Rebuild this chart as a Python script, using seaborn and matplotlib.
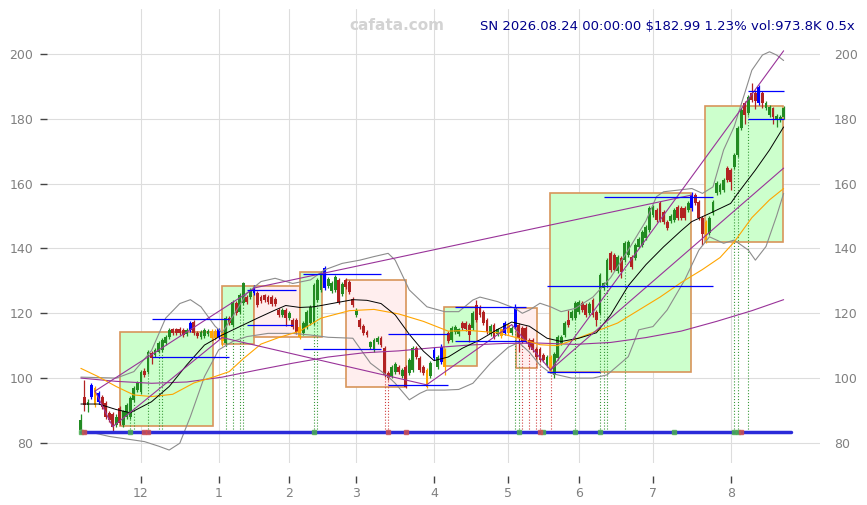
import matplotlib
matplotlib.use("Agg")
import matplotlib.pyplot as plt
from matplotlib.patches import Rectangle
import numpy as np
import pandas as pd
import seaborn as sns

# calendario de dias habiles (el eje x es el numero de dia habil)
festivos = ["2025-11-27", "2025-12-25", "2026-01-01", "2026-01-19", "2026-02-16",
            "2026-04-03", "2026-05-25", "2026-06-19", "2026-07-03"]
fechas = pd.bdate_range("2025-11-05", "2026-08-24", freq="C", holidays=festivos)

# velas
aperturas = [
    84.0, 94.3, 91.7, 94.1, 96.9, 92.7, 94.1, 92.2, 89.1, 89.0,
    85.6, 90.7, 85.6, 88.1, 88.1, 93.3, 96.3, 95.8, 102.3, 102.0,
    107.7, 107.2, 108.2, 108.7, 110.7, 112.8, 115.0, 115.0, 115.2, 114.8,
    113.5, 114.8, 117.4, 114.0, 112.8, 113.0, 113.5, 114.5, 114.5, 112.8,
    114.3, 110.7, 118.5, 116.4, 123.1, 120.5, 123.1, 125.1, 125.1, 126.2,
    126.2, 125.0, 125.5, 125.0, 125.0, 124.5, 121.0, 119.5, 121.0, 118.5,
    117.9, 117.9, 115.9, 113.8, 115.9, 117.0, 116.9, 124.1, 127.2, 127.7,
    128.5, 127.0, 127.2, 130.3, 126.0, 130.3, 129.8, 124.3, 119.5, 117.9,
    116.0, 114.3, 109.5, 108.7, 111.0, 112.3, 109.2, 101.5, 100.5, 102.0,
    103.5, 100.5, 103.5, 101.5, 102.5, 109.2, 106.1, 103.5, 102.5, 100.5,
    106.1, 103.5, 105.0, 108.7, 113.8, 111.8, 114.3, 113.5, 116.9, 116.9,
    116.4, 115.4, 122.6, 122.0, 120.5, 118.0, 113.5, 116.4, 113.5, 115.0,
    113.8, 116.5, 114.0, 115.9, 116.4, 115.5, 115.4, 111.8, 111.8, 109.0,
    109.0, 107.1, 104.0, 106.6, 101.0, 106.1, 110.7, 113.3, 117.9, 118.5,
    118.5, 120.5, 123.1, 122.6, 120.0, 124.1, 120.5, 120.0, 127.7, 128.7,
    138.5, 138.0, 133.0, 137.0, 136.4, 138.0, 137.5, 137.0, 140.6, 141.1,
    143.1, 145.7, 150.3, 151.9, 153.9, 151.4, 148.3, 148.5, 148.8, 152.9,
    152.5, 152.5, 151.9, 152.4, 156.5, 154.4, 149.3, 148.3, 144.7, 150.8,
    157.0, 157.5, 158.0, 164.7, 164.2, 165.2, 168.8, 177.1, 184.8, 181.7,
    187.9, 188.0, 184.8, 187.9, 183.2, 181.2, 183.2, 179.5, 179.6, 180.7]
cierres = [
    87.0, 91.7, 92.7, 97.9, 91.7, 95.3, 91.2, 88.1, 87.1, 84.8,
    88.1, 86.1, 89.7, 91.7, 93.8, 96.9, 98.4, 102.0, 101.0, 108.2,
    106.1, 108.7, 110.7, 111.8, 112.8, 114.8, 113.8, 114.0, 113.8, 113.3,
    114.8, 116.9, 113.8, 113.0, 114.3, 114.8, 114.5, 112.5, 112.5, 115.0,
    111.3, 118.5, 116.9, 123.6, 120.0, 125.6, 129.2, 123.6, 127.2, 128.2,
    122.6, 123.8, 124.0, 123.5, 123.0, 123.0, 119.5, 121.0, 118.5, 120.0,
    115.9, 114.3, 112.8, 117.0, 120.5, 122.0, 128.7, 130.3, 132.3, 133.9,
    130.5, 129.5, 131.3, 123.6, 129.0, 128.2, 126.7, 122.6, 121.0, 115.9,
    114.0, 113.3, 111.0, 111.8, 112.3, 110.2, 101.0, 100.0, 103.5, 104.5,
    102.0, 102.5, 97.4, 105.6, 109.2, 106.6, 102.5, 101.5, 97.4, 104.6,
    108.7, 106.6, 109.7, 103.5, 111.3, 115.4, 115.9, 115.0, 115.4, 115.2,
    113.3, 120.0, 118.0, 119.5, 116.9, 114.3, 116.0, 112.8, 115.0, 113.0,
    116.9, 114.0, 115.5, 121.5, 112.3, 111.5, 111.3, 109.5, 108.7, 106.5,
    105.5, 105.6, 106.6, 102.5, 107.5, 112.8, 112.8, 116.9, 116.4, 120.5,
    123.1, 123.6, 121.0, 119.5, 123.0, 119.5, 117.9, 131.8, 129.2, 136.4,
    133.4, 133.5, 137.5, 132.8, 141.6, 142.1, 134.4, 141.0, 143.0, 145.2,
    146.7, 152.4, 152.9, 148.8, 148.8, 148.3, 146.2, 150.0, 151.9, 149.3,
    149.5, 149.5, 153.9, 156.5, 153.9, 149.3, 144.5, 142.5, 149.3, 154.4,
    160.1, 159.5, 161.1, 161.1, 160.6, 168.8, 177.1, 182.7, 181.2, 186.8,
    185.8, 185.5, 189.9, 184.8, 184.8, 183.7, 180.7, 181.0, 180.6, 183.2]
maximos = [
    89.0, 99.5, 93.5, 98.5, 97.5, 96.0, 94.8, 92.8, 89.8, 89.6,
    88.8, 91.3, 90.3, 92.3, 94.4, 97.5, 99.0, 102.6, 103.0, 108.8,
    108.4, 109.3, 111.3, 112.4, 113.4, 115.4, 115.6, 115.6, 115.8, 115.4,
    115.4, 117.6, 118.0, 114.6, 114.9, 115.4, 115.1, 115.1, 115.1, 115.6,
    114.9, 119.1, 119.1, 124.2, 123.7, 126.2, 129.8, 125.7, 127.8, 128.8,
    126.8, 125.6, 126.1, 125.6, 125.6, 125.1, 121.6, 121.6, 121.6, 120.6,
    118.5, 118.5, 116.5, 117.6, 121.1, 122.6, 129.3, 130.9, 132.9, 134.5,
    131.1, 130.1, 131.9, 130.9, 129.6, 130.9, 130.4, 124.9, 121.6, 118.5,
    116.6, 114.9, 111.6, 112.4, 112.9, 112.9, 109.8, 102.1, 104.1, 105.1,
    104.1, 103.1, 104.1, 106.2, 109.8, 109.8, 106.7, 104.1, 103.1, 105.2,
    109.5, 107.2, 110.5, 109.3, 114.4, 116.0, 116.5, 115.6, 117.5, 117.5,
    117.0, 120.6, 124.0, 122.6, 121.1, 118.6, 116.6, 117.0, 115.6, 115.6,
    117.5, 117.1, 116.1, 122.8, 117.0, 116.1, 116.0, 112.4, 112.4, 109.6,
    109.6, 107.7, 107.2, 107.2, 108.1, 113.4, 113.4, 117.5, 121.0, 121.1,
    123.7, 124.2, 123.7, 123.2, 123.6, 124.7, 121.1, 132.4, 129.8, 137.0,
    139.1, 138.6, 138.1, 137.6, 142.2, 142.7, 138.1, 141.6, 143.6, 145.8,
    147.3, 153.0, 153.5, 152.5, 154.5, 152.0, 148.9, 150.6, 152.5, 153.5,
    153.1, 153.1, 154.5, 157.5, 157.1, 155.0, 149.9, 148.9, 149.9, 155.0,
    160.7, 160.1, 161.7, 165.3, 164.8, 169.4, 177.7, 183.3, 185.4, 187.4,
    191.0, 189.0, 190.5, 188.5, 185.4, 184.3, 183.8, 181.6, 181.2, 184.0]
minimos = [
    83.5, 90.0, 89.4, 93.5, 91.0, 92.0, 90.5, 87.5, 86.5, 83.0,
    85.0, 85.5, 85.0, 87.5, 87.5, 92.7, 95.7, 95.2, 100.2, 101.4,
    104.2, 106.6, 107.6, 108.1, 110.1, 112.2, 113.2, 113.4, 113.2, 112.7,
    112.9, 114.2, 113.2, 112.4, 112.2, 112.4, 112.9, 111.9, 111.9, 112.2,
    110.0, 110.1, 116.3, 115.8, 119.4, 119.9, 122.5, 123.0, 124.5, 125.6,
    122.0, 123.2, 123.4, 122.9, 122.4, 122.4, 118.9, 118.9, 116.0, 117.9,
    115.3, 113.7, 112.2, 113.2, 115.3, 116.4, 116.3, 123.5, 126.6, 127.1,
    127.9, 126.4, 126.6, 123.0, 125.4, 127.6, 126.1, 122.0, 118.9, 115.3,
    113.4, 112.7, 108.9, 108.1, 110.4, 109.6, 100.4, 99.4, 99.9, 101.4,
    101.4, 99.9, 96.8, 100.9, 101.9, 106.0, 101.9, 100.9, 96.8, 99.9,
    105.5, 102.9, 104.4, 101.0, 110.7, 111.2, 113.7, 112.9, 114.8, 114.6,
    111.0, 114.8, 117.4, 118.9, 116.3, 113.7, 112.9, 112.2, 112.9, 112.4,
    113.2, 113.4, 113.4, 115.3, 108.0, 110.9, 110.7, 108.9, 108.1, 105.9,
    104.9, 105.0, 103.4, 101.5, 100.0, 105.5, 110.1, 112.7, 115.8, 117.9,
    117.9, 119.9, 120.4, 118.9, 119.4, 118.9, 116.0, 119.4, 127.1, 128.1,
    132.8, 132.9, 132.4, 131.0, 135.8, 137.4, 133.8, 136.4, 140.0, 140.5,
    142.5, 145.1, 149.7, 148.2, 148.2, 147.7, 145.6, 147.9, 148.2, 148.7,
    148.9, 148.9, 151.3, 151.5, 153.3, 148.7, 141.0, 141.6, 144.1, 150.2,
    156.4, 156.9, 157.4, 160.5, 158.0, 164.6, 168.2, 176.5, 178.5, 181.1,
    185.2, 183.0, 184.2, 183.5, 182.6, 180.6, 178.5, 177.5, 179.0, 180.1]

# velas marcadas con senal
velas_azules = [3, 5, 31, 39, 49, 69, 100, 102, 120, 123, 173, 192]
velas_naranjas = [4, 37, 38, 40, 62, 98, 103, 119, 121, 133, 177]

# medias moviles y bandas (dia, valor)
ma_corta_dia = [0, 5, 10, 14, 20, 25, 30, 35, 40, 45, 50, 55, 58, 62, 66, 72, 77, 81, 85, 89,
                93, 97, 100, 104, 108, 113, 118, 122, 127, 132, 136, 141, 146, 150, 155, 160,
                165, 170, 173, 178, 184, 186, 191, 195, 199]
ma_corta = [92.0, 92.0, 90.3, 89.3, 92.7, 97.4, 104.1, 110.2, 113.3, 115.9, 118.5, 121.0, 122.4,
            121.8, 122.0, 123.2, 124.2, 124.0, 123.0, 119.5, 113.5, 108.3, 105.4, 106.5, 109.2,
            111.8, 115.0, 117.3, 116.0, 112.3, 111.3, 112.3, 114.0, 119.5, 128.5, 135.0, 140.5,
            145.5, 148.3, 150.8, 153.9, 157.0, 164.2, 170.4, 177.5]
ma_media_dia = [0, 5, 10, 15, 20, 26, 32, 38, 42, 46, 51, 56, 62, 68, 76, 83, 90, 97, 104, 110,
                118, 124, 130, 135, 140, 146, 152, 158, 164, 170, 176, 181, 185, 190, 195, 199]
ma_media = [103.0, 100.4, 97.4, 94.8, 94.3, 95.0, 98.5, 100.5, 102.0, 106.0, 110.5, 112.5, 114.5,
            118.5, 120.8, 121.2, 119.8, 117.5, 114.5, 114.7, 114.0, 112.3, 110.3, 110.0, 112.0,
            114.5, 117.0, 121.0, 125.0, 129.5, 133.5, 137.2, 142.0, 149.5, 155.0, 158.5]
ma_larga_dia = [0, 10, 20, 30, 40, 50, 60, 70, 80, 90, 100, 110, 120, 130, 140, 150, 160, 170,
                180, 190, 199]
ma_larga = [100.0, 99.0, 98.4, 98.8, 100.3, 102.5, 104.6, 106.5, 107.8, 108.4, 109.4, 110.2,
            110.7, 110.8, 110.4, 111.0, 112.5, 114.5, 117.5, 120.8, 124.2]
banda_sup_dia = [0, 10, 15, 20, 24, 28, 31, 34, 38, 40, 43, 47, 51, 55, 60, 65, 69, 74, 79, 83,
                 87, 89, 93, 98, 103, 107, 111, 113, 118, 123, 125, 127, 130, 133, 136, 140, 145,
                 150, 155, 160, 163, 165, 169, 173, 176, 179, 182, 185, 188, 190, 193, 195, 197, 199]
banda_sup = [100.3, 100.0, 102.0, 108.5, 118.5, 123.0, 124.2, 122.0, 116.0, 114.0, 119.0, 126.2,
             129.8, 130.8, 129.2, 130.3, 133.4, 135.4, 136.4, 137.5, 138.5, 136.4, 127.2, 122.0,
             120.5, 120.5, 124.1, 125.0, 123.6, 121.5, 120.0, 121.0, 123.1, 122.0, 120.5, 121.5,
             125.0, 131.0, 139.5, 148.5, 156.0, 157.5, 158.0, 158.5, 157.0, 159.0, 170.4, 177.6,
             188.0, 195.0, 199.7, 200.7, 199.7, 198.0]
banda_inf_dia = [0, 8, 18, 22, 25, 28, 31, 35, 39, 43, 47, 53, 60, 65, 70, 77, 82, 87, 89, 93,
                 96, 98, 103, 107, 111, 116, 121, 124, 127, 130, 133, 139, 145, 149, 155, 158, 162,
                 166, 171, 175, 178, 182, 185, 189, 191, 194, 197, 199]
banda_inf = [84.0, 82.0, 80.4, 79.0, 77.8, 79.9, 88.1, 100.5, 108.7, 111.3, 112.8, 113.8, 113.8,
             113.3, 112.6, 112.3, 104.6, 100.5, 98.4, 93.3, 95.3, 96.3, 96.3, 96.5, 98.4, 104.6,
             109.5, 111.0, 108.0, 104.0, 101.5, 100.0, 100.0, 101.0, 106.6, 114.9, 115.9, 121.0,
             130.3, 139.5, 143.6, 141.6, 142.6, 139.5, 136.4, 140.6, 150.0, 157.0]

# lineas de tendencia (dia inicio, precio inicio, dia fin, precio fin)
tend_x0 = [4, 4, 9, 40, 49, 98, 122, 133, 133]
tend_y0 = [96.0, 96.0, 85.0, 112.5, 127.8, 98.0, 116.5, 102.5, 102.5]
tend_x1 = [49, 9, 40, 98, 173, 122, 133, 199, 199]
tend_y1 = [127.6, 85.0, 112.5, 97.9, 156.5, 116.5, 102.5, 164.8, 201.0]

# soportes / resistencias
sop_x0 = [20, 20, 47, 47, 63, 63, 87, 87, 106, 106, 132, 132, 148, 189, 189]
sop_x1 = [42, 42, 61, 60, 85, 85, 104, 104, 126, 126, 179, 147, 179, 199, 199]
sop_y = [118.2, 106.4, 127.2, 116.3, 132.1, 108.9, 113.5, 97.9, 122.0, 111.6, 128.5, 102.0,
         156.0, 188.7, 180.0]

# cajas de rango
caja_x0 = [11, 40, 49.1, 62, 75, 102.7, 123.1, 132.9, 176.8]
caja_x1 = [37.3, 49.1, 62, 68.2, 92.2, 112.1, 129.1, 172.8, 198.8]
caja_lo = [85.2, 110.4, 112.6, 112.6, 97.4, 103.8, 103.0, 101.8, 141.9]
caja_hi = [114.3, 128.4, 128.4, 132.6, 130.3, 121.9, 121.5, 157.0, 184.0]
caja_tipo = ["g", "g", "r", "g", "r", "g", "r", "g", "g"]

# senales en la linea base
punteadas_verdes = [14, 15, 19, 22, 23, 41, 43, 45, 46, 66, 67, 123, 124, 140, 147, 148, 149,
                    154, 185, 186, 189]
punteadas_rojas = [86, 87, 125, 127, 129, 130, 133]
marcas_verdes = [0, 14, 66, 124, 131, 140, 147, 168, 185, 186]
marcas_rojas = [1, 18, 19, 87, 92, 130, 187]
linea_base = 83.4

titulo = "SN 2026.08.24 00:00:00 \\$182.99 1.23% vol:973.8K 0.5x"

verde = "#228b22"
rojo = "#b22222"
azul = "#0000ff"
naranja = "#ffa500"
morado = "#993399"

sns.set_theme(style="whitegrid")
plt.rcParams["font.family"] = ["DejaVu Sans"]

fig = plt.figure(figsize=(8.67, 5.05), dpi=100)
ax = fig.add_axes([47 / 867, 1 - 463 / 505, 773 / 867, 454 / 505])

n = len(cierres)
dias = np.arange(n)

# cajas
for x0, x1, lo, hi, t in zip(caja_x0, caja_x1, caja_lo, caja_hi, caja_tipo):
    relleno = "#ccffcc" if t == "g" else "#ffeeee"
    ax.add_patch(Rectangle((x0, lo), x1 - x0, hi - lo, facecolor=relleno,
                           edgecolor="#d8955a", linewidth=1.2, zorder=1))

# lineas punteadas hasta la base
ax.vlines(punteadas_verdes, linea_base, [minimos[i] for i in punteadas_verdes],
          colors="#3a9a3a", linestyles=":", linewidth=0.8, zorder=2)
ax.vlines(punteadas_rojas, linea_base, [minimos[i] for i in punteadas_rojas],
          colors="#d04040", linestyles=":", linewidth=0.8, zorder=2)

# velas
colores = []
for i in range(n):
    if i in velas_azules:
        colores.append(azul)
    elif i in velas_naranjas:
        colores.append(naranja)
    elif cierres[i] >= aperturas[i]:
        colores.append(verde)
    else:
        colores.append(rojo)
ap = np.array(aperturas)
ci = np.array(cierres)
ax.vlines(dias, minimos, maximos, colors=colores, linewidth=0.9, zorder=3)
ax.bar(dias, np.maximum(np.abs(ci - ap), 0.3), bottom=np.minimum(ap, ci), width=0.8,
       color=colores, linewidth=0, zorder=3)

# medias y bandas
sns.lineplot(x=banda_sup_dia, y=banda_sup, ax=ax, color="#8c8c8c", linewidth=0.8,
             estimator=None, sort=False, zorder=4)
sns.lineplot(x=banda_inf_dia, y=banda_inf, ax=ax, color="#8c8c8c", linewidth=0.8,
             estimator=None, sort=False, zorder=4)
sns.lineplot(x=ma_larga_dia, y=ma_larga, ax=ax, color=morado, linewidth=0.8,
             estimator=None, sort=False, zorder=4)
sns.lineplot(x=ma_media_dia, y=ma_media, ax=ax, color=naranja, linewidth=0.8,
             estimator=None, sort=False, zorder=4)
sns.lineplot(x=ma_corta_dia, y=ma_corta, ax=ax, color="black", linewidth=0.7,
             estimator=None, sort=False, zorder=4)

# tendencias
for x0, y0, x1, y1 in zip(tend_x0, tend_y0, tend_x1, tend_y1):
    ax.plot([x0, x1], [y0, y1], color=morado, linewidth=0.8, zorder=4)

# soportes
ax.hlines(sop_y, sop_x0, sop_x1, colors=azul, linewidth=0.9, zorder=5)

# linea base con marcas
ax.plot([0, n + 1], [linea_base, linea_base], color="#2b2bd9", linewidth=2.5, zorder=5)
ax.plot(marcas_verdes, [linea_base] * len(marcas_verdes), "s", color="#4caf50",
        markersize=3.5, alpha=0.8, zorder=6)
ax.plot(marcas_rojas, [linea_base] * len(marcas_rojas), "s", color="#d05050",
        markersize=3.5, alpha=0.8, zorder=6)

# ejes
ax.set_xlim(-9.6, 209.3)
ax.set_ylim(73.8, 213.9)
ax.set_yticks(range(80, 201, 20))
meses = fechas.month
pos_mes = [i for i in range(1, len(fechas)) if meses[i] != meses[i - 1]]
ax.set_xticks(pos_mes)
ax.set_xticklabels([str(meses[i]) for i in pos_mes])
ax.set_xlabel("")
ax.set_ylabel("")
ax.grid(True, color="#dddddd", linewidth=0.8)
ax.set_axisbelow(True)
for s in ax.spines.values():
    s.set_visible(False)
ax.spines["bottom"].set_position(("outward", 9))
ax.tick_params(axis="x", bottom=True, length=5, width=1, color="#444444",
               labelcolor="#808080", labelsize=9, pad=3)
ax.tick_params(axis="y", left=True, right=False, labelleft=True, labelright=True,
               length=5, width=1, color="#444444", labelcolor="#808080", labelsize=9, pad=5)

fig.text(855 / 867, 1 - 27 / 505, titulo, ha="right", va="center", color="#00008b", fontsize=9.5)
fig.text(397 / 867, 1 - 26 / 505, "cafata.com", ha="center", va="center", color="#d3d3d3",
         fontsize=11, fontweight="bold")

fig.savefig("out.png", dpi=100)
